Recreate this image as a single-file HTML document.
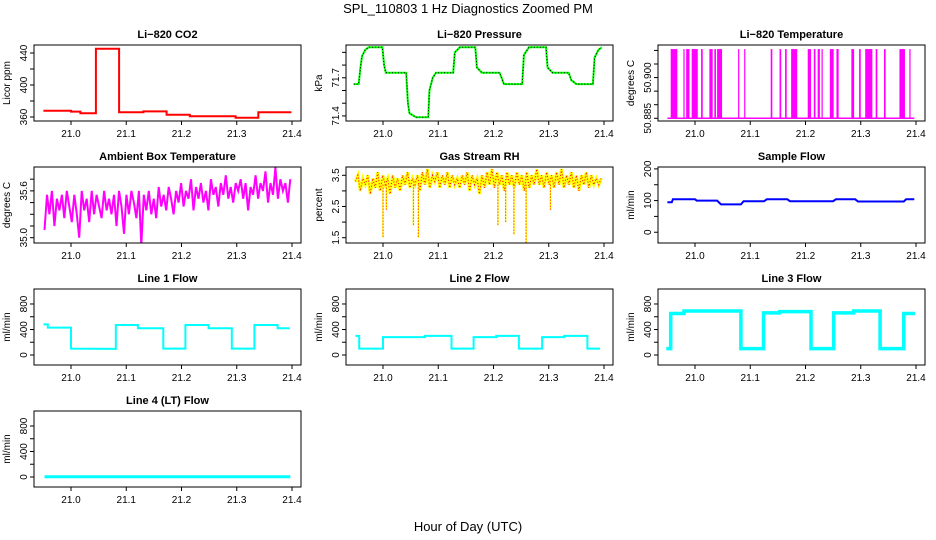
<!DOCTYPE html>
<html><head><meta charset="utf-8"><style>
html,body{margin:0;padding:0;background:#fff;}
svg{display:block;font-family:"Liberation Sans",sans-serif;}
</style></head><body>
<svg id="chart" width="936" height="540" viewBox="0 0 936 540">
<text x="468" y="13" text-anchor="middle" font-size="13">SPL_110803  1 Hz Diagnostics Zoomed PM</text>
<text x="468" y="531" text-anchor="middle" font-size="13">Hour of Day (UTC)</text>
</svg>
<script>
// ---------- data ----------
const xTicks = [21.0, 21.1, 21.2, 21.3, 21.4];
const xTickLabels = ["21.0", "21.1", "21.2", "21.3", "21.4"];

const co2Times  = [20.950, 21.000, 21.017, 21.045, 21.087, 21.131, 21.173, 21.215, 21.298, 21.339, 21.399];
const co2Values = [367.9, 366.7, 364.6, 445.4, 366.0, 367.0, 362.9, 361.0, 359.0, 366.0, 366.0];

const presTimes  = [20.947,20.956,20.959,20.962,20.968,20.974,20.999,21.002,21.005,21.042,21.045,21.048,21.060,21.082,21.084,21.090,21.096,21.127,21.130,21.139,21.167,21.170,21.179,21.211,21.219,21.252,21.255,21.264,21.295,21.298,21.307,21.336,21.341,21.350,21.380,21.383,21.390,21.396];
const presValues = [71.65,71.65,71.77,71.87,71.92,71.94,71.94,71.80,71.74,71.74,71.50,71.42,71.39,71.39,71.60,71.70,71.74,71.74,71.90,71.94,71.94,71.78,71.74,71.74,71.65,71.65,71.88,71.94,71.94,71.78,71.74,71.74,71.68,71.65,71.65,71.86,71.92,71.94];

const tempBase = 50.885;
const tempSpikeValue = 50.9105;
const tempSpikeStart = [20.956,20.979,20.984,20.994,21.011,21.026,21.035,21.040,21.078,21.089,21.137,21.153,21.163,21.174,21.204,21.215,21.222,21.229,21.244,21.256,21.283,21.297,21.308,21.327,21.342,21.370,21.388];
const tempSpikeEnd   = [20.968,20.981,20.990,21.005,21.014,21.032,21.038,21.049,21.080,21.091,21.140,21.156,21.166,21.185,21.210,21.218,21.226,21.231,21.251,21.260,21.288,21.300,21.321,21.330,21.345,21.380,21.390];

const ambientStart = 20.952, ambientEnd = 21.397;
const ambientValues = [35.1,35.55,35.3,35.6,35.15,35.5,35.35,35.55,35.25,35.6,
35.4,35.2,35.55,35.3,35.0,35.6,35.35,35.5,35.2,35.6,
35.3,35.55,35.4,35.25,35.6,35.35,35.5,35.3,35.55,35.15,
35.6,35.4,35.05,35.55,35.3,35.6,35.45,35.25,35.6,34.9,
35.55,35.35,35.6,35.3,35.5,35.25,35.65,35.4,35.55,35.35,
35.65,35.5,35.3,35.6,35.45,35.7,35.4,35.6,35.5,35.75,
35.35,35.65,35.5,35.7,35.45,35.6,35.35,35.75,35.55,35.65,
35.4,35.7,35.55,35.8,35.5,35.65,35.45,35.7,35.6,35.75,
35.5,35.7,35.35,35.65,35.55,35.8,35.5,35.7,35.6,35.85,
35.45,35.7,35.55,35.9,35.5,35.75,35.6,35.7,35.45,35.75];

const rhStart = 20.95, rhEnd = 21.395;
const rhValues = [3.3,3.5,3.0,3.4,3.2,3.5,2.9,3.4,3.1,3.6,
3.0,3.5,3.2,3.4,2.9,3.5,3.1,3.4,3.0,3.5,
3.2,3.6,3.1,3.4,3.2,3.5,3.0,3.6,3.2,3.7,
3.1,3.5,3.3,3.6,3.1,3.5,3.2,3.6,3.1,3.5,
3.2,3.4,3.1,3.5,3.2,3.6,3.0,3.5,3.2,3.4,
2.9,3.5,3.1,3.6,3.2,3.7,3.1,3.6,3.2,3.5,
3.0,3.6,3.2,3.5,3.1,3.6,3.2,3.5,3.0,3.6,
3.1,3.5,3.2,3.7,3.2,3.5,3.1,3.6,3.2,3.5,
3.1,3.6,3.2,3.7,3.1,3.5,3.2,3.6,3.1,3.5,
3.0,3.5,3.2,3.6,3.1,3.5,3.2,3.4,3.2,3.4];
const rhDipTimes  = [21.000, 21.006, 21.055, 21.064, 21.208, 21.222, 21.237, 21.259, 21.303];
const rhDipValues = [1.5, 2.4, 1.9, 1.5, 1.9, 2.0, 1.6, 1.35, 2.4];

const sampleTimes  = [20.950,20.958,20.960,21.000,21.003,21.040,21.047,21.083,21.088,21.125,21.130,21.167,21.172,21.250,21.255,21.290,21.295,21.378,21.382,21.397];
const sampleValues = [95,95,104,104,100,100,88,88,98,98,104,104,98,98,104,104,97,97,104,104];

const line1Times  = [20.950,20.958,20.958,21.000,21.000,21.081,21.081,21.121,21.121,21.167,21.167,21.207,21.207,21.249,21.249,21.291,21.291,21.332,21.332,21.374,21.374,21.396];
const line1Values = [480,480,430,430,100,95,470,470,420,420,100,100,470,470,420,420,100,100,470,470,420,420];

const line2Times  = [20.950,20.957,20.957,21.000,21.000,21.076,21.076,21.124,21.124,21.164,21.164,21.205,21.205,21.246,21.246,21.288,21.288,21.328,21.328,21.370,21.370,21.393];
const line2Values = [300,300,100,100,280,280,300,300,100,100,280,280,300,300,100,100,280,280,300,300,100,100];

const line3Times  = [20.948,20.956,20.956,20.980,20.980,21.083,21.083,21.124,21.124,21.153,21.153,21.210,21.210,21.251,21.251,21.287,21.287,21.335,21.335,21.378,21.378,21.398];
const line3Values = [100,100,650,650,690,690,100,100,660,660,680,680,100,100,660,660,690,690,100,100,650,650];

const line4Times  = [20.952, 21.397];
const line4Values = [5, 5];

// ---------- layout ----------
const NS = "http://www.w3.org/2000/svg";
const svg = document.getElementById("chart");
const BOX_W = 267, BOX_H = 76;
function mk(tag, attrs, parent) {
  const e = document.createElementNS(NS, tag);
  for (const k in attrs) e.setAttribute(k, attrs[k]);
  (parent || svg).appendChild(e);
  return e;
}
function makePanel(col, row, title, ylab, dmin, dmax, yticks, ylabels, key) {
  const left = 34 + 312 * col, top = 45 + 122 * row;
  const g = mk("g", {});
  
  
  const X = t => left + 37 + (t - 21.0) * 552.5;
  const Y = v => top + (dmax - v) / (dmax - dmin) * BOX_H;
  const t = mk("text", {x: left + BOX_W / 2, y: top - 7, "text-anchor": "middle", "font-size": 11, "font-weight": "bold"}, g);
  t.textContent = title;
  
  
  const yl = mk("text", {transform: `translate(${left - 24},${top + BOX_H / 2}) rotate(-90)`, "text-anchor": "middle", "font-size": 10}, g);
  yl.textContent = ylab;
  
  
  xTicks.forEach((v, i) => {
    const x = X(v);
    mk("line", {x1: x, x2: x, y1: top + BOX_H, y2: top + BOX_H + 4, stroke: "#000"}, g);
    const tl = mk("text", {x: x, y: top + BOX_H + 16, "text-anchor": "middle", "font-size": 10}, g);
    tl.textContent = xTickLabels[i];
    
    
  });
  yticks.forEach((v) => {
    const y = Y(v);
    mk("line", {x1: left - 4, x2: left, y1: y, y2: y, stroke: "#000"}, g);
  });
  ylabels.forEach((lab) => {
    const y = Y(parseFloat(lab));
    const tl = mk("text", {transform: `translate(${left - 7},${y}) rotate(-90)`, "text-anchor": "middle", "font-size": 10}, g);
    tl.textContent = lab;
    
    
  });
  const clipId = "clip-" + key;
  const cp = mk("clipPath", {id: clipId}, g);
  mk("rect", {x: left, y: top, width: BOX_W, height: BOX_H}, cp);
  const plot = mk("g", {"clip-path": `url(#${clipId})`}, g);
  
  
  const box = mk("rect", {x: left, y: top, width: BOX_W, height: BOX_H, fill: "none", stroke: "#000"}, g);
  
  
  return {X, Y, plot};
}
function linePath(P, ts, vs) {
  return ts.map((t, i) => (i ? "L" : "M") + P.X(t).toFixed(1) + "," + P.Y(vs[i]).toFixed(1)).join("");
}
function stepAfterPath(P, ts, vs) {
  let d = "M" + P.X(ts[0]).toFixed(1) + "," + P.Y(vs[0]).toFixed(1);
  for (let i = 1; i < ts.length; i++) {
    d += "H" + P.X(ts[i]).toFixed(1) + "V" + P.Y(vs[i]).toFixed(1);
  }
  return d;
}
function polyLine(P, ts, vs, attrs, name, step) {
  const p = mk("path", Object.assign({d: step ? stepAfterPath(P, ts, vs) : linePath(P, ts, vs), fill: "none"}, attrs), P.plot);
  
  
  return p;
}
function evenTimes(a, b, n) { const r = []; for (let i = 0; i < n; i++) r.push(a + (b - a) * i / (n - 1)); return r; }

// CO2
let P = makePanel(0, 0, "Li\u2212820 CO2", "Licor ppm", 355, 450, [360, 380, 400, 420, 440], ["360", "400", "440"], "co2");
polyLine(P, co2Times, co2Values, {stroke: "#ff0000", "stroke-width": 2}, "co2-line", true);

// Pressure
P = makePanel(1, 0, "Li\u2212820 Pressure", "kPa", 71.36, 71.958, [71.4, 71.5, 71.6, 71.7, 71.8, 71.9], ["71.4", "71.7"], "pressure");
polyLine(P, presTimes, presValues, {stroke: "#00ff00", "stroke-width": 2}, "pressure-line");
polyLine(P, presTimes, presValues, {stroke: "#000", "stroke-width": 1, "stroke-dasharray": "1,2"}, "pressure-points");

// Temperature
P = makePanel(2, 0, "Li\u2212820 Temperature", "degrees C", 50.884, 50.912, [50.885, 50.89, 50.895, 50.9, 50.905, 50.91], ["50.885", "50.900"], "li820-temp");
polyLine(P, [20.950, 21.397], [tempBase, tempBase], {stroke: "#ff00ff", "stroke-width": 1.5}, "temp-baseline");
tempSpikeStart.forEach((s, i) => {
  const r = mk("rect", {x: P.X(s), y: P.Y(tempSpikeValue), width: Math.max(1.2, P.X(tempSpikeEnd[i]) - P.X(s)), height: P.Y(tempBase) - P.Y(tempSpikeValue), fill: "#ff00ff"}, P.plot);
  
  
});

// Ambient
P = makePanel(0, 1, "Ambient Box Temperature", "degrees C", 34.932, 35.906, [35.0, 35.15, 35.3, 35.45, 35.6, 35.75], ["35.0", "35.6"], "ambient");
polyLine(P, evenTimes(ambientStart, ambientEnd, ambientValues.length), ambientValues, {stroke: "#ff00ff", "stroke-width": 2}, "ambient-line");

// RH
P = makePanel(1, 1, "Gas Stream RH", "percent", 1.33, 3.766, [1.5, 2.0, 2.5, 3.0, 3.5], ["1.5", "2.5", "3.5"], "rh");
const rhT = evenTimes(rhStart, rhEnd, rhValues.length);
polyLine(P, rhT, rhValues, {stroke: "#ffff00", "stroke-width": 3}, "rh-band");
polyLine(P, rhT, rhValues, {stroke: "#ff0000", "stroke-width": 1, "stroke-dasharray": "1,2"}, "rh-points");
rhDipTimes.forEach((t, i) => {
  const l = mk("line", {x1: P.X(t), x2: P.X(t), y1: P.Y(3.2), y2: P.Y(rhDipValues[i]), stroke: "#ffff00", "stroke-width": 1.5}, P.plot);
  
  
  const d = mk("line", {x1: P.X(t), x2: P.X(t), y1: P.Y(3.2), y2: P.Y(rhDipValues[i]), stroke: "#ff0000", "stroke-width": 1, "stroke-dasharray": "1,2"}, P.plot);
  
  
});

// Sample flow
P = makePanel(2, 1, "Sample Flow", "ml/min", -34, 206, [0, 50, 100, 150, 200], ["0", "100", "200"], "sample-flow");
polyLine(P, sampleTimes, sampleValues, {stroke: "#0000ff", "stroke-width": 2}, "sample-flow-line");

// Line flows
const flowTicks = [0, 200, 400, 600, 800], flowLabels = ["0", "400", "800"];
P = makePanel(0, 2, "Line 1 Flow", "ml/min", -157, 1035, flowTicks, flowLabels, "line1-flow");
polyLine(P, line1Times, line1Values, {stroke: "#00ffff", "stroke-width": 2}, "line1-flow-line");
P = makePanel(1, 2, "Line 2 Flow", "ml/min", -157, 1035, flowTicks, flowLabels, "line2-flow");
polyLine(P, line2Times, line2Values, {stroke: "#00ffff", "stroke-width": 2}, "line2-flow-line");
P = makePanel(2, 2, "Line 3 Flow", "ml/min", -157, 1035, flowTicks, flowLabels, "line3-flow");
polyLine(P, line3Times, line3Values, {stroke: "#00ffff", "stroke-width": 3.5}, "line3-flow-line");
P = makePanel(0, 3, "Line 4 (LT) Flow", "ml/min", -157, 1035, flowTicks, flowLabels, "line4-flow");
polyLine(P, line4Times, line4Values, {stroke: "#00ffff", "stroke-width": 3}, "line4-flow-line");
</script>
</body></html>
